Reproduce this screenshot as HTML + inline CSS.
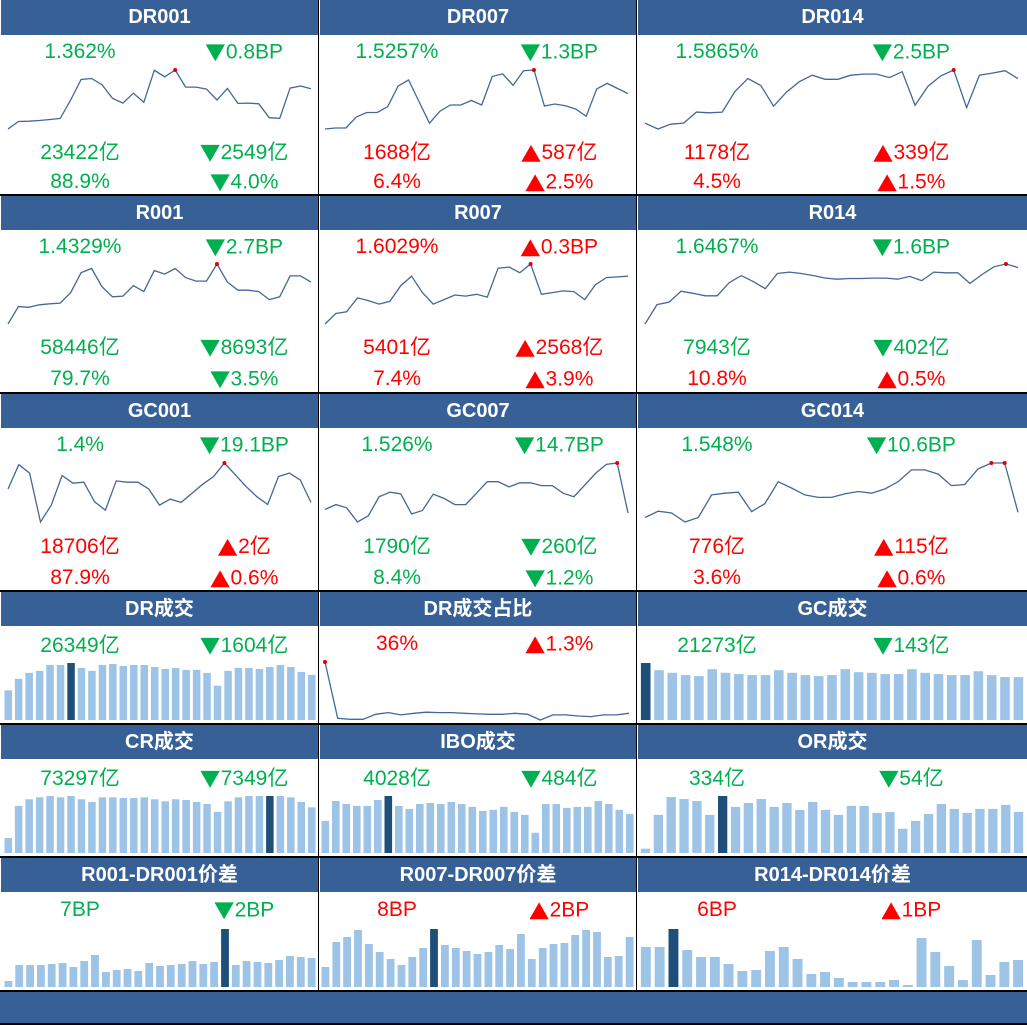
<!DOCTYPE html>
<html><head><meta charset="utf-8"><style>
body{margin:0;background:#fff;}
#root{position:relative;width:1027px;height:1025px;overflow:hidden;background:#fff;font-family:"Liberation Sans","Noto Sans CJK SC",sans-serif;}
.hdr{position:absolute;background:#376196;color:#fff;font-weight:bold;font-size:20px;text-align:center;}
.t{position:absolute;font-size:21px;transform:translate(-50%,-50%);white-space:nowrap;}
.tri{font-family:"DejaVu Sans",sans-serif;font-size:22px;display:inline-block;transform:scaleX(1.15);margin-right:2px;}
.g{color:#00B050}.r{color:#FF0000}
.vl{position:absolute;background:#000;width:1px;}
.hl{position:absolute;background:#000;height:2px;left:0;width:1027px;}
svg{position:absolute;left:0;top:0;}
</style></head><body>
<div id="root">
<svg id="chart" width="1027" height="1025"></svg>
</div>
<script>
// line series (relative values)
const dr001=[15,37,38,40,43,46,100,160,163,145,105,91,120,93,187,168,188,138,138,132,100,134,90,91,89,48,46,135,141,133];
const dr007=[5,8,8,40,53,53,70,130,148,85,22,57,75,75,88,75,158,166,132,175,177,72,78,73,63,42,122,138,123,108];
const dr014=[23,6,20,23,55,53,55,115,152,132,72,113,143,162,150,150,162,165,165,155,172,75,130,160,177,68,162,168,175,152];
const r001=[0,50,48,55,58,60,90,147,159,107,78,80,110,93,153,143,159,133,123,123,172,120,97,97,93,70,78,138,138,120];
const r007=[0,30,35,75,67,57,65,110,137,90,57,70,83,80,85,77,160,163,147,172,85,90,95,93,70,113,133,135,137];
const r014=[0,55,62,93,87,80,80,117,137,120,100,143,147,143,137,130,127,129,129,130,130,127,135,123,147,145,145,115,140,162,170,160];
const gc001=[98,170,145,0,50,138,115,118,60,35,122,118,118,98,50,68,58,85,112,135,175,140,105,75,52,135,145,125,58];
const gc007=[36,50,41,0,18,73,86,81,23,33,80,68,50,50,83,116,116,101,113,113,105,105,83,73,106,140,166,170,26];
const gc014=[13,31,26,0,13,78,83,86,30,53,116,98,78,71,71,81,88,83,95,116,150,150,138,105,108,153,170,170,28];
const drRatio=[170,3,0,0,15,20,13,18,21,20,20,18,16,15,15,18,15,-2,13,13,10,8,13,13,18];
// bar series
const drVol=[90,125,143,149,167,167,173,158,149,167,170,164,167,167,161,155,158,152,152,143,104,149,158,158,155,161,167,161,146,137];
const gcVol=[174,152,144,137,134,155,144,140,137,137,152,144,137,134,137,155,146,144,140,140,155,144,140,137,137,149,137,131,131];
const crVol=[45,142,162,168,172,168,172,162,154,168,168,166,166,168,162,156,162,160,154,148,124,156,168,172,172,172,172,168,154,138];
const iboVol=[97,157,148,142,142,160,172,142,133,148,151,148,154,148,139,127,130,139,124,115,61,148,148,136,139,139,157,148,130,118];
const orVol=[13,115,169,163,157,115,172,139,151,163,139,151,130,154,130,115,142,142,121,124,73,97,118,148,133,121,133,133,145,124];
const sp1=[18,66,66,66,69,72,60,78,96,45,51,54,48,72,63,66,69,78,69,75,174,66,78,75,72,81,93,90,87];
const sp7=[60,135,150,171,129,105,84,66,90,117,174,126,117,108,99,105,126,114,159,84,117,129,132,156,171,165,90,93,150];
const sp14=[120,120,174,111,90,90,69,48,51,108,120,84,39,45,27,15,15,15,21,6,147,105,63,21,141,36,75,81];
// highlighted bar index per chart
const hiIdx={drVol:6,gcVol:0,crVol:25,iboVol:6,orVol:6,sp1:20,sp7:10,sp14:2};

const NS='http://www.w3.org/2000/svg';
const svg=document.getElementById('chart');
const root=document.getElementById('root');
function el(tag,attrs){const e=document.createElementNS(NS,tag);for(const k in attrs)e.setAttribute(k,attrs[k]);svg.appendChild(e);return e;}
function xScale(i,n,x0,x1){return x0+(x1-x0)*i/(n-1);}
function yScale(v,mn,mx,y0,y1){return y1-(v-mn)/(mx-mn)*(y1-y0);}
function line(name,vals,x0,x1,y0,y1){
  const mn=Math.min(...vals),mx=Math.max(...vals);
  const pts=vals.map((v,i)=>xScale(i,vals.length,x0,x1).toFixed(1)+','+yScale(v,mn,mx,y0,y1).toFixed(1)).join(' ');
  const p=el('polyline',{points:pts,fill:'none',stroke:'#44679A','stroke-width':1.3});
  
  
  vals.forEach((v,i)=>{if(v===mx){const c=el('circle',{cx:xScale(i,vals.length,x0,x1),cy:yScale(v,mn,mx,y0,y1),r:2,fill:'#E00000'});
    
    }});
}
function bars(name,vals,x0,x1,y0,y1,hi){
  const mx=Math.max(...vals),n=vals.length,step=(x1-x0)/n,w=step*0.72;
  vals.forEach((v,i)=>{const h=v/mx*(y1-y0);
    const r=el('rect',{x:(x0+i*step+(step-w)/2).toFixed(1),y:(y1-h).toFixed(1),width:w.toFixed(1),height:h.toFixed(1),fill:i===hi?'#1F4E79':'#9DC3E6'});
    
    });
}
const cols=[[0,318],[319,636],[637,1027]];
const rows=[[0,35],[196,230],[394,428],[592,626],[725,759],[858,892]];
function hdr(c,r,txt,name){const d=document.createElement('div');d.className='hdr';
  d.style.left=(cols[c][0]+1)+'px';d.style.width=(cols[c][1]-cols[c][0]-1)+'px';
  d.style.top=rows[r][0]+'px';d.style.height=(rows[r][1]-rows[r][0])+'px';d.style.lineHeight=(rows[r][1]-rows[r][0])+'px';
  d.textContent=txt;
  
  
  root.appendChild(d);}
function txt(x,y,s,cls,name){const d=document.createElement('div');d.className='t '+cls;d.style.left=x+'px';d.style.top=y+'px';
  if(s[0]==='▼'||s[0]==='▲'){const sp=document.createElement('span');sp.className='tri';sp.textContent=s[0];d.appendChild(sp);d.appendChild(document.createTextNode(s.slice(1)));}
  else d.textContent=s;
  
  
  root.appendChild(d);}
const lx=[80,397,717],rx=[245,560,912];
const titles=[['DR001','DR007','DR014'],['R001','R007','R014'],['GC001','GC007','GC014'],['DR成交','DR成交占比','GC成交'],['CR成交','IBO成交','OR成交'],['R001-DR001价差','R007-DR007价差','R014-DR014价差']];
titles.forEach((row,r)=>row.forEach((t,c)=>hdr(c,r,t,t.toLowerCase())));
const texts=[
 [[['1.362%','g'],['▼0.8BP','g'],['23422亿','g'],['▼2549亿','g'],['88.9%','g'],['▼4.0%','g']],
  [['1.5257%','g'],['▼1.3BP','g'],['1688亿','r'],['▲587亿','r'],['6.4%','r'],['▲2.5%','r']],
  [['1.5865%','g'],['▼2.5BP','g'],['1178亿','r'],['▲339亿','r'],['4.5%','r'],['▲1.5%','r']]],
 [[['1.4329%','g'],['▼2.7BP','g'],['58446亿','g'],['▼8693亿','g'],['79.7%','g'],['▼3.5%','g']],
  [['1.6029%','r'],['▲0.3BP','r'],['5401亿','r'],['▲2568亿','r'],['7.4%','r'],['▲3.9%','r']],
  [['1.6467%','g'],['▼1.6BP','g'],['7943亿','g'],['▼402亿','g'],['10.8%','r'],['▲0.5%','r']]],
 [[['1.4%','g'],['▼19.1BP','g'],['18706亿','r'],['▲2亿','r'],['87.9%','r'],['▲0.6%','r']],
  [['1.526%','g'],['▼14.7BP','g'],['1790亿','g'],['▼260亿','g'],['8.4%','g'],['▼1.2%','g']],
  [['1.548%','g'],['▼10.6BP','g'],['776亿','r'],['▲115亿','r'],['3.6%','r'],['▲0.6%','r']]],
 [[['26349亿','g'],['▼1604亿','g']],[['36%','r'],['▲1.3%','r']],[['21273亿','g'],['▼143亿','g']]],
 [[['73297亿','g'],['▼7349亿','g']],[['4028亿','g'],['▼484亿','g']],[['334亿','g'],['▼54亿','g']]],
 [[['7BP','g'],['▼2BP','g']],[['8BP','r'],['▲2BP','r']],[['6BP','r'],['▲1BP','r']]]
];
const ty=[[52,151,182],[247,346,379],[445,545,578],[644],[777],[910]];
texts.forEach((row,r)=>row.forEach((cell,c)=>cell.forEach((t,k)=>{
  const ln=Math.floor(k/2);txt(k%2?rx[c]:lx[c],ty[r][ln],t[0],t[1],titles[r][c].toLowerCase()+(k%2?'-change':'-value'));})));
const lineX=[[8,311],[325,628],[645,1018]];
const lineSets=[[dr001,dr007,dr014],[r001,r007,r014],[gc001,gc007,gc014]];
const lineY=[[70,129],[264,324],[463,522]];
lineSets.forEach((row,r)=>row.forEach((v,c)=>line(titles[r][c].toLowerCase(),v,lineX[c][0],lineX[c][1],lineY[r][0],lineY[r][1])));
line('dr-ratio',drRatio,325,629,662,720);
const barX=[[3,317],[320,635],[639,1025]];
bars('dr-volume',drVol,barX[0][0],barX[0][1],663,720,hiIdx.drVol);
bars('gc-volume',gcVol,barX[2][0],barX[2][1],663,720,hiIdx.gcVol);
bars('cr-volume',crVol,barX[0][0],barX[0][1],796,853,hiIdx.crVol);
bars('ibo-volume',iboVol,barX[1][0],barX[1][1],796,853,hiIdx.iboVol);
bars('or-volume',orVol,barX[2][0],barX[2][1],796,853,hiIdx.orVol);
bars('r001-spread',sp1,barX[0][0],barX[0][1],929,987,hiIdx.sp1);
bars('r007-spread',sp7,barX[1][0],barX[1][1],929,987,hiIdx.sp7);
bars('r014-spread',sp14,barX[2][0],barX[2][1],929,987,hiIdx.sp14);
[[318,0,991],[636,0,991]].forEach(a=>{const d=document.createElement('div');d.className='vl';d.style.left=a[0]+'px';d.style.top=a[1]+'px';d.style.height=(a[2]-a[1])+'px';
  
  root.appendChild(d);});
[194,392,590,723,856,990,1023].forEach(y=>{const d=document.createElement('div');d.className='hl';d.style.top=y+'px';
  
  root.appendChild(d);});
const f=document.createElement('div');f.style.cssText='position:absolute;left:0;top:992px;width:1027px;height:31px;background:#376196;';

root.appendChild(f);
</script>
</body></html>
